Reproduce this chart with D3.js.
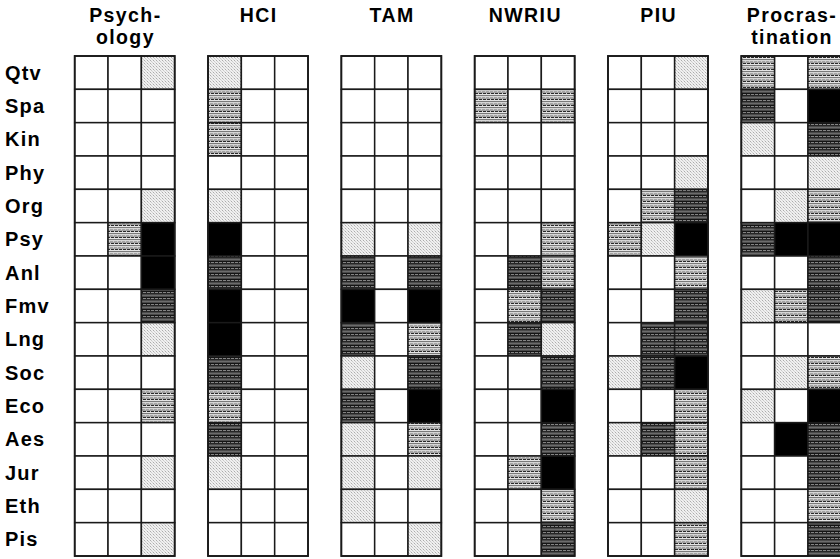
<!DOCTYPE html>
<html>
<head>
<meta charset="utf-8">
<script src="https://cdn.jsdelivr.net/npm/d3@7"></script>
<style>
  html, body { margin: 0; padding: 0; background: #fff; }
  svg { display: block; }
</style>
</head>
<body>
<svg id="chart" width="840" height="559"></svg>
<script>
// ---- data ----
const groups = ["Psychology", "HCI", "TAM", "NWRIU", "PIU", "Procrastination"];
const groupTitles = [["Psych-", "ology"], ["HCI"], ["TAM"], ["NWRIU"], ["PIU"], ["Procras-", "tination"]];
const rows = ["Qtv", "Spa", "Kin", "Phy", "Org", "Psy", "Anl", "Fmv", "Lng", "Soc", "Eco", "Aes", "Jur", "Eth", "Pis"];
const subCols = [0, 1, 2];
// levels: 0 none, 1 light, 2 medium, 3 dark, 4 full
const psychology = [[0,0,1],[0,0,0],[0,0,0],[0,0,0],[0,0,1],[0,2,4],[0,0,4],[0,0,3],[0,0,1],[0,0,0],[0,0,2],[0,0,0],[0,0,1],[0,0,0],[0,0,1]];
const hci        = [[1,0,0],[2,0,0],[2,0,0],[0,0,0],[1,0,0],[4,0,0],[3,0,0],[4,0,0],[4,0,0],[3,0,0],[2,0,0],[3,0,0],[1,0,0],[0,0,0],[0,0,0]];
const tam        = [[0,0,0],[0,0,0],[0,0,0],[0,0,0],[0,0,0],[1,0,1],[3,0,3],[4,0,4],[3,0,2],[1,0,3],[3,0,4],[1,0,2],[1,0,1],[1,0,0],[0,0,1]];
const nwriu      = [[0,0,0],[2,0,2],[0,0,0],[0,0,0],[0,0,0],[0,0,2],[0,3,2],[0,2,3],[0,3,1],[0,0,3],[0,0,4],[0,0,3],[0,2,4],[0,0,2],[0,0,3]];
const piu        = [[0,0,1],[0,0,0],[0,0,0],[0,0,1],[0,2,3],[2,1,4],[0,0,2],[0,0,3],[0,3,3],[1,3,4],[0,0,2],[1,3,2],[0,0,2],[0,0,1],[0,0,2]];
const procrast   = [[2,0,2],[3,0,4],[1,0,3],[0,0,1],[0,1,2],[3,4,4],[0,0,3],[1,2,3],[0,0,0],[0,1,2],[1,0,4],[0,4,3],[0,0,3],[0,0,2],[0,0,3]];
const groupValues = [psychology, hci, tam, nwriu, piu, procrast];

// ---- layout ----
const svg = d3.select("#chart");
const gx = d3.scaleBand().domain(groups).range([74.7, 841.3]).paddingInner(0.25).paddingOuter(0);
const sx = d3.scaleBand().domain(subCols).range([0, gx.bandwidth()]);
const y = d3.scaleBand().domain(rows).range([56, 556]);
const FONT = "'Liberation Sans', Arial, Helvetica, sans-serif";

// ---- patterns ----
const defs = svg.append("defs");
function pat(id, w, h, draw) {
  const p = defs.append("pattern").attr("id", id).attr("patternUnits", "userSpaceOnUse")
    .attr("width", w).attr("height", h);
  draw(p);
}
function px(p, x, yy, w, h, c) {
  p.append("rect").attr("x", x).attr("y", yy).attr("width", w).attr("height", h).attr("fill", c);
}
pat("light", 3, 3, p => {
  px(p, 0, 0, 3, 3, "#f0f0f0");
  px(p, 0, 0, 1, 1, "#acacac");
  px(p, 1, 1, 1, 1, "#cacaca");
  px(p, 2, 2, 1, 1, "#d4d4d4");
});
pat("medium", 4, 6, p => {
  px(p, 0, 0, 4, 6, "#a4a4a4");
  px(p, 0, 0, 4, 1, "#d6d6d6");
  px(p, 1, 1, 1, 1, "#cfcfcf");
  px(p, 0, 3, 4, 1, "#2a2a2a");
  px(p, 2, 3, 1, 1, "#d0d0d0");
  px(p, 0, 4, 4, 1, "#e4e4e4");
  px(p, 0, 5, 4, 1, "#7a7a7a");
});
pat("dark", 4, 6, p => {
  px(p, 0, 0, 4, 6, "#4a4a4a");
  px(p, 0, 1, 4, 1, "#6c6c6c");
  px(p, 0, 3, 4, 1, "#151515");
  px(p, 0, 4, 4, 1, "#858585");
  px(p, 2, 4, 1, 1, "#222");
  px(p, 0, 5, 4, 1, "#262626");
});
const fills = ["#ffffff", "url(#light)", "url(#medium)", "url(#dark)", "#000000"];

// ---- cells ----
const cells = [];
groups.forEach((g, gi) => {
  rows.forEach((r, ri) => {
    subCols.forEach(c => {
      cells.push({ g, r, c, v: groupValues[gi][ri][c] });
    });
  });
});

svg.append("g").selectAll("rect").data(cells).join("rect")
  .attr("x", d => gx(d.g) + sx(d.c))
  .attr("y", d => y(d.r))
  .attr("width", sx.bandwidth())
  .attr("height", y.bandwidth())
  .attr("fill", d => fills[d.v])
  .attr("stroke", "#1a1a1a")
  .attr("stroke-width", 1.5);

// outer border per group
svg.append("g").selectAll("rect").data(groups).join("rect")
  .attr("x", d => gx(d))
  .attr("y", y.range()[0])
  .attr("width", gx.bandwidth())
  .attr("height", y.range()[1] - y.range()[0])
  .attr("fill", "none")
  .attr("stroke", "#1a1a1a")
  .attr("stroke-width", 1.8);

// ---- row labels ----
svg.append("g").selectAll("text").data(rows).join("text")
  .attr("x", 5)
  .attr("y", d => y(d) + y.bandwidth() / 2 + 7)
  .attr("font-family", FONT)
  .attr("font-weight", "bold")
  .attr("font-size", 20)
  .attr("letter-spacing", 1.2)
  .attr("fill", "#000")
  .text(d => d);

// ---- group titles ----
const tg = svg.append("g");
groups.forEach((g, gi) => {
  const cx = gx(g) + gx.bandwidth() / 2;
  const t = tg.append("text")
    .attr("x", cx)
    .attr("y", 22)
    .attr("text-anchor", "middle")
    .attr("font-family", FONT)
    .attr("font-weight", "bold")
    .attr("font-size", 19.5)
    .attr("letter-spacing", 1.4)
    .attr("fill", "#000");
  groupTitles[gi].forEach((line, li) => {
    t.append("tspan").attr("x", cx + 0.7).attr("dy", li === 0 ? 0 : 22).text(line);
  });
});
</script>
</body>
</html>
